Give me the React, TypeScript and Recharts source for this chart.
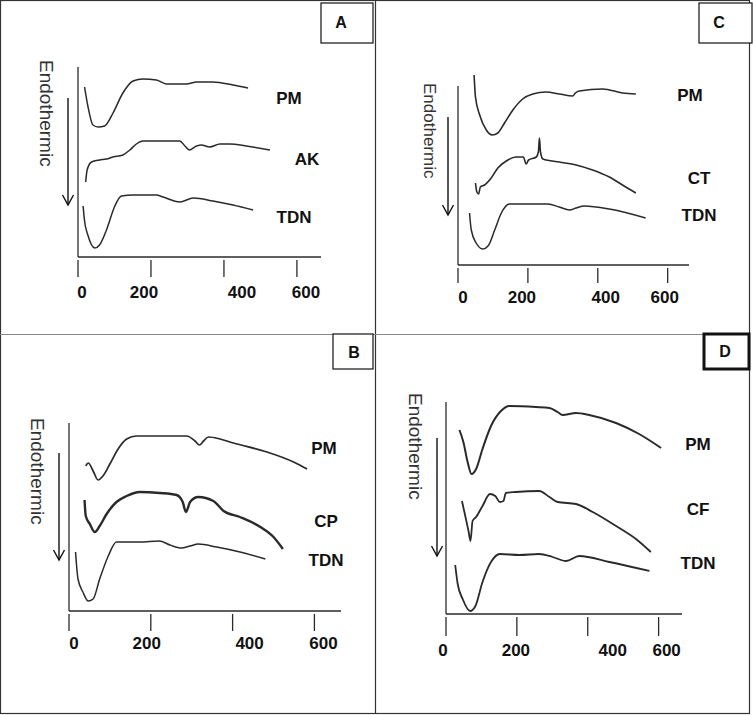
import React from 'react';
import { LineChart, Line, XAxis, YAxis, ReferenceLine } from 'recharts';

document.body.style.margin = '0';

// temperature axis (°C)
const tempTicks = [0, 200, 400, 600];

// curves as [temperature, heat flow (arbitrary units)]
// panel A
const aLabels = ['PM', 'AK', 'TDN'];
const aPM = [[18,170],[27,151],[41,132],[55,130],[73,131],[96,144],[123,164],[151,176],[178,178],[215,177],[242,173],[270,173],[297,173],[325,175],[370,175],[425,172],[466,169]];
const aAK = [[21,75],[25,87],[37,95],[59,97],[78,98],[96,100],[123,102],[142,107],[160,113],[178,116],[224,116],[279,116],[293,111],[305,107],[325,111],[338,112],[361,110],[389,113],[416,113],[462,111],[526,107]];
const aTDN = [[14,51],[18,36],[27,22],[46,9],[59,12],[78,27],[101,51],[119,61],[151,62],[215,62],[233,60],[279,55],[316,59],[370,56],[425,52],[480,47]];

// panel C
const cLabels = ['PM', 'CT', 'TDN'];
const cPM = [[46,190],[50,168],[62,150],[81,135],[98,130],[114,132],[133,142],[157,155],[185,166],[214,171],[252,173],[290,171],[328,169],[336,172],[347,174],[414,176],[471,172],[509,171]];
const cCT = [[50,82],[54,73],[59,71],[64,78],[76,80],[95,87],[114,97],[138,104],[166,108],[187,108],[195,101],[202,105],[224,108],[230,113],[233,127],[236,113],[243,106],[290,103],[338,100],[385,95],[433,88],[480,78],[509,72]];
const cTDN = [[33,52],[38,35],[52,22],[71,16],[86,19],[105,35],[124,52],[147,61],[195,61],[257,61],[290,58],[319,55],[338,57],[361,59],[433,56],[537,47]];

// panel B
const bLabels = ['PM', 'CP', 'TDN'];
const bPM = [[41,145],[47,148],[59,140],[71,131],[83,135],[100,147],[120,162],[141,172],[165,175],[222,175],[288,175],[308,170],[319,166],[329,170],[341,174],[369,172],[402,168],[484,159],[549,149],[582,142]];
const bCP = [[38,111],[41,95],[51,87],[63,79],[75,85],[92,97],[116,109],[141,115],[173,119],[222,118],[263,116],[278,109],[286,99],[296,109],[316,114],[353,110],[378,100],[418,94],[468,84],[500,74],[523,62]];
const bTDN = [[16,59],[22,32],[34,19],[47,10],[59,12],[75,32],[96,55],[116,69],[173,69],[221,70],[247,66],[275,63],[296,65],[316,67],[361,64],[418,59],[480,52]];

// panel D
const dLabels = ['PM', 'CF', 'TDN'];
const dPM = [[38,184],[49,172],[61,152],[72,140],[85,145],[103,165],[127,188],[155,203],[179,208],[254,207],[292,206],[315,202],[329,199],[367,201],[404,199],[480,191],[545,180],[607,166]];
const dCF = [[45,113],[55,97],[64,82],[69,73],[75,93],[85,97],[103,108],[124,120],[139,118],[152,112],[162,113],[169,121],[197,122],[263,123],[292,117],[315,112],[367,110],[414,102],[480,88],[536,75],[578,62]];
const dTDN = [[26,49],[33,30],[47,15],[68,3],[83,8],[103,32],[127,52],[152,60],[207,59],[263,60],[301,57],[339,53],[376,58],[461,52],[574,43]];

const toPoints = (rows: number[][]) => rows.map(([t, v]) => ({ t, v }));

const FONT = 'Arial, "Liberation Sans", sans-serif';
const INK = '#2a2a2a';

const panels = [
  {
    letter: 'A', left: 0, top: 0, width: 376, height: 335,
    margin: { top: 57, right: 55, left: 78, bottom: 28 },
    xMax: 666, yMax: 200, yAxisTop: 190,
    series: [aPM, aAK, aTDN], widths: [1.5, 1.5, 1.5], labels: aLabels,
    labelPos: [[289, 98], [307, 159], [294, 217]],
    tickShift: [4, -7, 18, 9], tickDy: 41, tickLen: 20,
    box: { x: 321, y: 3, w: 52, h: 40, tx: 341, ty: 28, sw: 1.2 },
    arrow: { x: 68, y1: 98, y2: 205 }, endo: { x: 40, y: 60, size: 19 },
  },
  {
    letter: 'C', left: 376, top: 0, width: 376, height: 335,
    margin: { top: 65, right: 63, left: 82, bottom: 20 },
    xMax: 661, yMax: 200, yAxisTop: 179,
    series: [cPM, cCT, cTDN], widths: [1.6, 1.6, 1.5], labels: cLabels,
    labelPos: [[690, 95], [699, 178], [699, 215]],
    tickShift: [5, -6, 8, -3], tickDy: 38, tickLen: 18,
    box: { x: 699, y: 3, w: 53, h: 40, tx: 719, ty: 28, sw: 1.2 },
    arrow: { x: 448, y1: 117, y2: 215 }, endo: { x: 424, y: 83, size: 17 },
  },
  {
    letter: 'B', left: 0, top: 336, width: 376, height: 379,
    margin: { top: 75, right: 35, left: 69, bottom: 54 },
    xMax: 665, yMax: 200, yAxisTop: 188,
    series: [bPM, bCP, bTDN], widths: [1.7, 2.4, 1.5], labels: bLabels,
    labelPos: [[324, 448], [326, 521], [326, 560]],
    tickShift: [5, -4, 17, 9], tickDy: 38, tickLen: 20,
    box: { x: 333, y: 334, w: 40, h: 35, tx: 354, ty: 358, sw: 1.2 },
    arrow: { x: 59, y1: 453, y2: 560 }, endo: { x: 31, y: 418, size: 19 },
  },
  {
    letter: 'D', left: 376, top: 336, width: 376, height: 379,
    margin: { top: 63, right: 70, left: 70, bottom: 51 },
    xMax: 666, yMax: 215, yAxisTop: 212,
    series: [dPM, dCF, dTDN], widths: [2, 1.8, 1.8], labels: dLabels,
    labelPos: [[698, 444], [698, 509], [698, 563]],
    tickShift: [-3, -1, 25, 8], tickDy: 42, tickLen: 22,
    box: { x: 704, y: 334, w: 45, h: 35, tx: 725, ty: 357, sw: 3 },
    arrow: { x: 437, y1: 438, y2: 556 }, endo: { x: 409, y: 393, size: 19 },
  },
];

type PanelDef = typeof panels[number];

const Panel = ({ p }: { p: PanelDef }) => {
  const renderTick = (props: any) => {
    const { x, y, payload, index } = props;
    return (
      <g>
        <line x1={x} y1={y + 3} x2={x} y2={y + p.tickLen} stroke={INK} strokeWidth={1.3} />
        <text x={x + (p.tickShift[index] || 0)} y={y + p.tickDy} textAnchor="middle"
          fontFamily={FONT} fontWeight="bold" fontSize={17} fill="#111">
          {payload.value}
        </text>
      </g>
    );
  };
  return (
    <div style={{ position: 'absolute', left: p.left, top: p.top }}>
      <LineChart width={p.width} height={p.height} margin={p.margin}>
        <XAxis type="number" dataKey="t" domain={[0, p.xMax]} ticks={tempTicks} interval={0}
          allowDataOverflow height={50} tickSize={0} tickMargin={0} tickLine={false}
          axisLine={{ stroke: INK, strokeWidth: 1.3 }} tick={renderTick} />
        <YAxis type="number" dataKey="v" domain={[0, p.yMax]} hide allowDataOverflow />
        <ReferenceLine segment={[{ x: 0, y: 0 }, { x: 0, y: p.yAxisTop }]} stroke={INK}
          strokeWidth={1.3} ifOverflow="visible" />
        {p.series.map((rows, i) => (
          <Line key={p.labels[i]} data={toPoints(rows)} dataKey="v" name={p.labels[i]}
            type="monotone" stroke={INK} strokeWidth={p.widths[i]} dot={false}
            isAnimationActive={false} />
        ))}
      </LineChart>
    </div>
  );
};

const Overlay = () => (
  <svg width={753} height={715} style={{ position: 'absolute', left: 0, top: 0, pointerEvents: 'none' }}>
    {/* frame and dividers */}
    <rect x={0.5} y={0.5} width={749} height={713} fill="none" stroke="#333" strokeWidth={1.2} />
    <line x1={375.5} y1={0} x2={375.5} y2={714} stroke="#333" strokeWidth={1.2} />
    <line x1={0} y1={334.5} x2={750} y2={334.5} stroke="#888" strokeWidth={1.2} />
    {panels.map((p) => (
      <g key={p.letter}>
        <rect x={p.box.x} y={p.box.y} width={p.box.w} height={p.box.h} fill="#fff"
          stroke="#111" strokeWidth={p.box.sw} />
        <text x={p.box.tx} y={p.box.ty} textAnchor="middle" fontFamily={FONT}
          fontWeight="bold" fontSize={16} fill="#111">{p.letter}</text>
        <line x1={p.arrow.x} y1={p.arrow.y1} x2={p.arrow.x} y2={p.arrow.y2} stroke="#111" strokeWidth={1.4} />
        <polyline points={`${p.arrow.x - 5.5},${p.arrow.y2 - 10} ${p.arrow.x},${p.arrow.y2} ${p.arrow.x + 5.5},${p.arrow.y2 - 10}`}
          fill="none" stroke="#111" strokeWidth={1.4} />
        <text x={p.endo.x} y={p.endo.y} transform={`rotate(90 ${p.endo.x} ${p.endo.y})`}
          fontFamily={FONT} fontSize={p.endo.size} fill="#333">Endothermic</text>
        {p.labels.map((name, i) => (
          <text key={name} x={p.labelPos[i][0]} y={p.labelPos[i][1] + 6} textAnchor="middle"
            fontFamily={FONT} fontWeight="bold" fontSize={17} fill="#111">{name}</text>
        ))}
      </g>
    ))}
  </svg>
);

export default function App() {
  return (
    <div style={{ position: 'relative', width: 753, height: 715, background: '#fff' }}>
      {panels.map((p) => <Panel key={p.letter} p={p} />)}
      <Overlay />
    </div>
  );
}
